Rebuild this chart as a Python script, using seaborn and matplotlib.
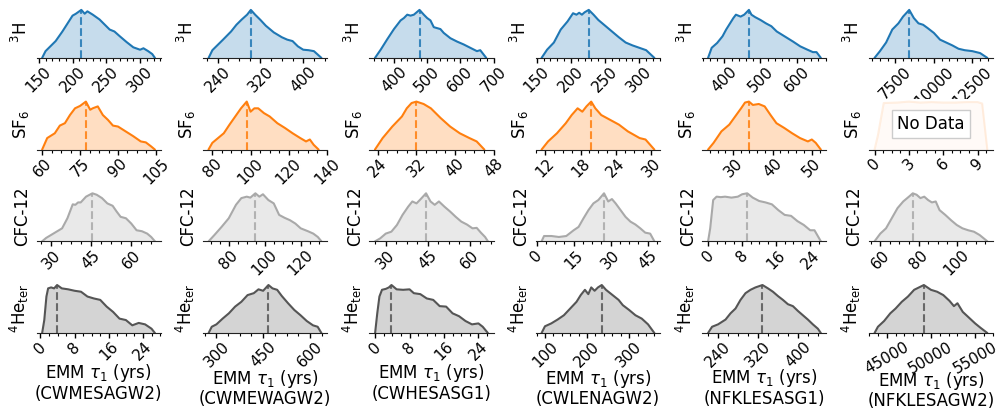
#!/usr/bin/env python
# coding: utf-8

#import the necessary libraries
import numpy as np
import matplotlib
matplotlib.use("Agg")
import matplotlib.pyplot as plt
from matplotlib.ticker import AutoMinorLocator
import seaborn as sns

#set the style of the plot
sns.set_style("ticks")
plt.rcParams['font.family'] = ['DejaVu Sans']
plt.rcParams['text.color'] = 'black'
plt.rcParams['axes.labelcolor'] = 'black'
plt.rcParams['xtick.color'] = 'black'
plt.rcParams['axes.edgecolor'] = '#222222'

#sites (columns)
sites = ["CWMESAGW2", "CWMEWAGW2", "CWHESASG1", "CWLENAGW2", "NFKLESASG1", "NFKLESAGW2"]

#3H posterior (age, relative density)
h3_x = [
    [155, 160, 175, 185, 195, 200, 205, 213, 218, 222, 230, 240, 250, 255, 262, 270, 280, 290, 300, 305, 312, 318, 322],
    [223, 230, 250, 265, 275, 285, 295, 302, 310, 320, 330, 345, 360, 370, 380, 390, 400, 410, 420, 434],
    [343, 360, 380, 400, 420, 430, 440, 450, 460, 477, 490, 500, 510, 520, 530, 540, 550, 570, 590, 610, 630, 650, 660, 678],
    [157, 165, 175, 185, 195, 203, 208, 212, 216, 220, 226, 233, 240, 250, 260, 270, 280, 290, 300, 310, 322],
    [355, 365, 380, 395, 405, 415, 425, 432, 445, 455, 468, 475, 485, 500, 515, 530, 545, 560, 575, 590, 610, 630, 645, 655, 667],
    [6150, 6500, 6900, 7300, 7700, 8000, 8400, 8700, 9000, 9300, 9600, 10000, 10400, 10800, 11200, 11600, 12000, 12500, 13000, 13470],
]
h3_y = [
    [0, 0.14, 0.35, 0.55, 0.77, 0.88, 0.92, 1.0, 0.92, 0.97, 0.9, 0.8, 0.66, 0.59, 0.55, 0.45, 0.33, 0.22, 0.17, 0.2, 0.14, 0.08, 0],
    [0, 0.16, 0.38, 0.55, 0.69, 0.8, 0.9, 1.0, 0.9, 0.79, 0.67, 0.53, 0.43, 0.38, 0.35, 0.24, 0.17, 0.16, 0.14, 0],
    [0, 0.17, 0.39, 0.6, 0.78, 0.83, 0.9, 0.88, 0.9, 1.0, 0.9, 0.83, 0.78, 0.64, 0.62, 0.6, 0.52, 0.41, 0.34, 0.28, 0.21, 0.14, 0.16, 0],
    [0, 0.17, 0.32, 0.59, 0.76, 0.93, 0.9, 0.94, 0.9, 0.95, 1.0, 0.9, 0.79, 0.67, 0.55, 0.43, 0.32, 0.26, 0.21, 0.16, 0],
    [0, 0.21, 0.31, 0.45, 0.59, 0.71, 0.83, 0.9, 0.86, 0.9, 1.0, 0.9, 0.85, 0.79, 0.72, 0.66, 0.55, 0.48, 0.41, 0.34, 0.24, 0.17, 0.12, 0.12, 0],
    [0, 0.14, 0.32, 0.59, 0.72, 0.86, 1.0, 0.83, 0.72, 0.69, 0.62, 0.52, 0.38, 0.32, 0.26, 0.19, 0.16, 0.14, 0.1, 0],
]
h3_med = [213, 302, 477, 226, 468, 8400]
h3_ticks = [[150, 200, 250, 300], [240, 320, 400], [400, 500, 600, 700],
            [150, 200, 250, 300], [400, 500, 600], [7500, 10000, 12500]]

#SF6 posterior (last site has no data)
sf6_x = [
    [60, 62, 65, 67, 69, 71, 73, 75, 77.3, 79, 80, 82, 84, 86, 88, 90, 93, 96, 99, 101, 103, 104.6],
    [78, 80, 83, 86, 89, 92, 95, 98, 100, 102, 104, 107, 110, 114, 118, 122, 126, 129, 131, 133, 135.6],
    [23.4, 25, 27, 29, 30, 31, 32, 33.5, 35, 37, 39, 41, 43, 44.5, 46.1],
    [11.4, 12.5, 14, 15.5, 16.5, 17.5, 18.3, 19, 19.8, 20.5, 21.5, 23, 24.5, 26, 27, 28, 29, 30.5],
    [23.6, 25, 27, 29, 30.5, 32, 33, 34, 35, 36.5, 38, 39.5, 41, 43, 45, 47, 49, 50, 51, 52.3],
    [0, 0.3, 0.8, 2, 3, 4, 5, 6, 7, 8, 9, 9.4, 9.85],
]
sf6_y = [
    [0, 0.24, 0.34, 0.5, 0.55, 0.72, 0.86, 0.91, 1.0, 0.83, 0.86, 0.9, 0.72, 0.62, 0.5, 0.48, 0.38, 0.28, 0.17, 0.15, 0.07, 0],
    [0, 0.14, 0.24, 0.34, 0.52, 0.69, 0.86, 1.0, 0.79, 0.86, 0.86, 0.76, 0.69, 0.55, 0.45, 0.34, 0.24, 0.17, 0.21, 0.1, 0],
    [0, 0.24, 0.48, 0.69, 0.86, 0.97, 1.0, 0.95, 0.86, 0.66, 0.48, 0.34, 0.24, 0.17, 0],
    [0, 0.17, 0.34, 0.55, 0.72, 0.86, 0.79, 0.9, 1.0, 0.86, 0.72, 0.62, 0.52, 0.38, 0.31, 0.24, 0.21, 0],
    [0, 0.14, 0.38, 0.52, 0.69, 0.86, 0.98, 1.0, 0.93, 0.95, 0.9, 0.72, 0.55, 0.45, 0.34, 0.24, 0.17, 0.21, 0.14, 0],
    [0, 0.3, 0.96, 0.97, 0.99, 0.97, 0.98, 0.97, 0.97, 0.98, 0.98, 0.95, 0],
]
sf6_med = [77.3, 98, 32, 19.8, 34, None]
sf6_ticks = [[60, 75, 90, 105], [80, 100, 120, 140], [24, 32, 40, 48],
             [12, 18, 24, 30], [30, 40, 50], [0, 3, 6, 9]]

#CFC-12 posterior
cfc_x = [
    [26.5, 28, 31, 34, 36, 38, 39, 40, 41, 43, 45.4, 47, 49, 51, 53, 54.5, 56, 58, 60, 62, 64, 66, 67.5, 68.9],
    [68.8, 72, 76, 80, 84, 87, 90, 92, 94.8, 97, 99, 102, 105, 108, 111, 114, 117, 120, 124, 127, 129.5, 131.5],
    [26.2, 28, 30, 32, 34, 36, 38, 39.5, 41, 42.5, 44.4, 46, 47.5, 49, 51, 53, 55, 57, 59, 61, 62.5, 64, 65.5, 66.5],
    [2, 3, 6, 9, 12, 15, 17, 19, 21, 23, 25, 27.3, 29, 30.5, 32, 34, 36, 38, 40, 42, 44, 46, 47.7],
    [0, 0.5, 1.2, 2, 3, 4, 5.5, 7, 8, 9.2, 10.5, 12, 13.5, 15, 16.5, 18, 19.5, 21, 22.5, 24, 25, 26.5],
    [57, 60, 63, 66, 69, 72, 75, 77, 79, 81, 83, 85, 87, 89, 91, 94, 97, 100, 103, 106, 109, 112, 116],
]
cfc_y = [
    [0, 0.07, 0.17, 0.27, 0.48, 0.77, 0.76, 0.81, 0.81, 0.93, 1.0, 0.97, 0.9, 0.79, 0.74, 0.62, 0.51, 0.48, 0.37, 0.23, 0.21, 0.16, 0.09, 0],
    [0, 0.13, 0.3, 0.48, 0.76, 0.9, 0.93, 0.91, 1.0, 0.93, 0.98, 0.86, 0.79, 0.55, 0.49, 0.44, 0.37, 0.27, 0.21, 0.16, 0.09, 0],
    [0, 0.06, 0.16, 0.2, 0.34, 0.55, 0.72, 0.83, 0.79, 0.88, 1.0, 0.83, 0.76, 0.83, 0.72, 0.62, 0.51, 0.41, 0.35, 0.27, 0.28, 0.18, 0.09, 0],
    [0, 0.11, 0.11, 0.09, 0.11, 0.23, 0.3, 0.48, 0.65, 0.79, 0.86, 1.0, 0.83, 0.88, 0.79, 0.65, 0.51, 0.41, 0.35, 0.27, 0.18, 0.16, 0],
    [0, 0.27, 0.86, 0.93, 0.92, 0.93, 0.91, 0.93, 0.98, 1.0, 0.91, 0.84, 0.81, 0.77, 0.65, 0.55, 0.53, 0.42, 0.34, 0.23, 0.23, 0],
    [0, 0.16, 0.27, 0.48, 0.69, 0.83, 0.93, 1.0, 0.97, 0.9, 0.93, 0.86, 0.81, 0.83, 0.65, 0.55, 0.44, 0.34, 0.27, 0.23, 0.2, 0.13, 0],
]
cfc_med = [45.4, 94.8, 44.4, 27.3, 9.2, 77]
cfc_ticks = [[30, 45, 60], [80, 100, 120], [30, 45, 60],
             [0, 15, 30, 45], [0, 8, 16, 24], [60, 80, 100]]

#4He terrigenic posterior
he_x = [
    [0.4, 0.9, 1.4, 1.8, 2.5, 3.2, 3.9, 5, 6.5, 8, 9.5, 11, 12.5, 14, 15.5, 17, 18.5, 20, 21.5, 23, 24.5, 26, 26.8],
    [275, 285, 300, 320, 340, 360, 380, 400, 420, 435, 450, 467, 480, 495, 510, 530, 550, 570, 590, 610, 625, 637],
    [0, 0.5, 1, 1.6, 2.5, 3.2, 3.8, 5, 6.5, 8, 9, 10.5, 12, 13.5, 15, 16.5, 18, 19.5, 21, 22.5, 24, 25, 26.2],
    [92, 100, 115, 130, 145, 160, 175, 185, 195, 203, 210, 218, 226, 235, 245, 255, 265, 275, 285, 300, 315, 330, 345, 360],
    [220, 228, 240, 255, 265, 275, 285, 295, 305, 315, 329, 340, 350, 360, 370, 380, 390, 400, 410, 420, 430, 440, 446],
    [43620, 44000, 44700, 45400, 46000, 46700, 47400, 48100, 49200, 50000, 50700, 51400, 52100, 52600, 53000, 53600, 54300, 55000, 55600, 56380],
]
he_y = [
    [0, 0.27, 0.76, 0.93, 0.95, 0.93, 1.0, 0.93, 0.91, 0.88, 0.86, 0.76, 0.72, 0.69, 0.55, 0.44, 0.3, 0.27, 0.16, 0.21, 0.18, 0.09, 0],
    [0, 0.13, 0.18, 0.3, 0.41, 0.55, 0.65, 0.79, 0.83, 0.91, 0.88, 1.0, 0.93, 0.9, 0.77, 0.62, 0.48, 0.37, 0.25, 0.16, 0.13, 0],
    [0, 0.41, 0.76, 0.9, 0.92, 0.95, 1.0, 0.91, 0.9, 0.91, 0.83, 0.81, 0.72, 0.69, 0.56, 0.55, 0.41, 0.35, 0.25, 0.18, 0.2, 0.13, 0],
    [0, 0.14, 0.2, 0.28, 0.37, 0.51, 0.65, 0.79, 0.9, 0.81, 0.95, 0.88, 0.95, 1.0, 0.9, 0.83, 0.76, 0.69, 0.58, 0.48, 0.37, 0.3, 0.18, 0],
    [0, 0.13, 0.18, 0.28, 0.41, 0.51, 0.69, 0.83, 0.9, 0.95, 1.0, 0.93, 0.86, 0.77, 0.69, 0.6, 0.56, 0.46, 0.37, 0.28, 0.18, 0.09, 0],
    [0, 0.13, 0.25, 0.41, 0.51, 0.65, 0.76, 0.9, 1.0, 0.9, 0.86, 0.79, 0.67, 0.56, 0.62, 0.44, 0.32, 0.2, 0.11, 0],
]
he_med = [3.9, 467, 3.8, 235, 329, 49200]
he_ticks = [[0, 8, 16, 24], [300, 450, 600], [0, 8, 16, 24],
            [100, 200, 300], [240, 320, 400], [45000, 50000, 55000]]

#rows of the figure
rows = [
    ("$^3$H", "#1f77b4", h3_x, h3_y, h3_med, h3_ticks),
    ("SF$_6$", "#ff7f0e", sf6_x, sf6_y, sf6_med, sf6_ticks),
    ("CFC-12", "#a9a9a9", cfc_x, cfc_y, cfc_med, cfc_ticks),
    ("$^4$He$_{\\rm ter}$", "#555555", he_x, he_y, he_med, he_ticks),
]

#vertical place of the bottom labels (axes fraction) per column
xlabel_y = [-0.575, -0.69, -0.575, -0.69, -0.68, -0.73]

fig, axes = plt.subplots(4, 6, figsize=(10.03, 4.16), dpi=100)
fig.subplots_adjust(left=0.0364, right=0.990, top=0.982, bottom=0.1995,
                    wspace=0.342, hspace=0.82)

for r, (label, color, xs, ys, meds, ticks) in enumerate(rows):
    for c in range(6):
        ax = axes[r, c]
        x = np.array(xs[c], dtype=float)
        y = np.array(ys[c], dtype=float)
        nodata = meds[c] is None
        a = 0.12 if nodata else 1.0
        sns.lineplot(x=x, y=y, ax=ax, color=color, lw=1.5, alpha=a, sort=False)
        ax.fill_between(x, y, color=color, alpha=0.25 * a, lw=0)
        if nodata:
            ax.text(0.5, 0.5, "No Data", transform=ax.transAxes, ha="center",
                    va="center", fontsize=12,
                    bbox=dict(boxstyle="square,pad=0.3", fc="white", ec="#cccccc"))
        else:
            ax.vlines(meds[c], 0, np.interp(meds[c], x, y), colors=color,
                      linestyles="--", lw=1.5, alpha=0.85)

        #x range: data with margins, extended to include the ticks
        span = x.max() - x.min()
        lo = min(x.min() - 0.05 * span, ticks[c][0])
        hi = max(x.max() + 0.05 * span, ticks[c][-1])
        ax.set_xlim(lo, hi)
        ax.set_ylim(0, 1.05 * y.max())
        ax.set_xticks(ticks[c])
        rot = 30 if (r == 3 and c == 5) else 45
        ax.set_xticklabels([str(t) for t in ticks[c]], rotation=rot, fontsize=11)
        ax.xaxis.set_minor_locator(AutoMinorLocator())
        ax.tick_params(axis="x", which="major", length=3.5, width=1, pad=1)
        ax.tick_params(axis="x", which="minor", length=2, width=0.8)
        ax.set_yticks([])
        ax.set_ylabel(label, fontsize=12, labelpad=4)
        ax.set_xlabel("")
        sns.despine(ax=ax, left=True)
        if r == 3:
            ax.set_xlabel("EMM $\\tau_1$ (yrs)\n(" + sites[c] + ")", fontsize=12,
                          linespacing=1.05)
            ax.xaxis.set_label_coords(0.5, xlabel_y[c])

plt.savefig("out.png", dpi=100)
